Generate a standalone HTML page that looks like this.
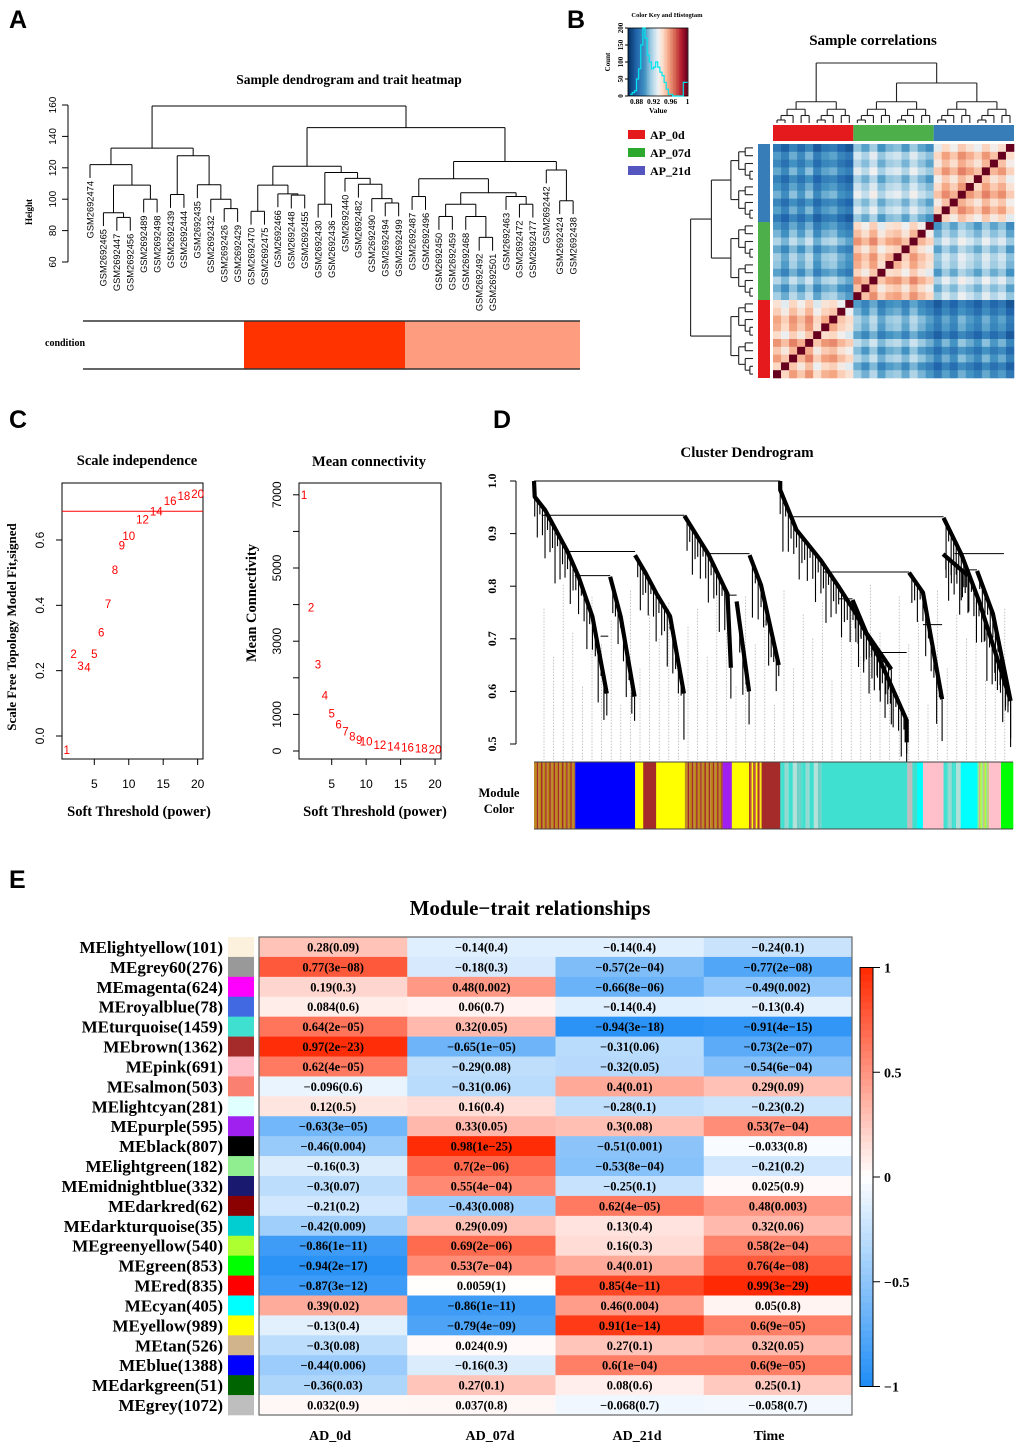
<!DOCTYPE html>
<html><head><meta charset="utf-8"><style>
html,body{margin:0;padding:0;background:#fff;}
svg{display:block;}
.serif{font-family:"Liberation Serif",serif;font-weight:bold;}
.sans{font-family:"Liberation Sans",sans-serif;}
</style></head><body>
<svg id="fig" width="1020" height="1450" viewBox="0 0 1020 1450" xmlns="http://www.w3.org/2000/svg">
<g class="sans" font-weight="bold" font-size="25">
<text x="9" y="28">A</text>
<text x="567" y="28">B</text>
<text x="9" y="428">C</text>
<text x="493" y="428">D</text>
<text x="9" y="888">E</text>
</g>
<g id="pA"></g>
<g id="pB"></g>
<g id="pC"></g>
<g id="pD"></g>
<g id="pE"></g>
</svg>
<script>
// ===== Panel A data =====
const sampleNames = ["GSM2692474","GSM2692465","GSM2692447","GSM2692456","GSM2692489","GSM2692498","GSM2692439","GSM2692444","GSM2692435","GSM2692432","GSM2692426","GSM2692429","GSM2692470","GSM2692475","GSM2692466","GSM2692448","GSM2692455","GSM2692430","GSM2692436","GSM2692440","GSM2692482","GSM2692490","GSM2692494","GSM2692499","GSM2692487","GSM2692496","GSM2692450","GSM2692459","GSM2692468","GSM2692492","GSM2692501","GSM2692463","GSM2692472","GSM2692477","GSM2692442","GSM2692424","GSM2692438"];
const sampleTree = [[[0,[[1,[2,3,88.4],91.4],[4,5,100],109],122],[[6,7,103],[8,[9,[10,11,94],100],109.2],127.7],132.5],
 [[[[12,13,92.3],[14,[15,16,102.6],103.4],109],[[17,18,96.8],[19,[20,[21,[22,23,97.6],100.4],109.5],113.3],117],121],
  [[[24,25,101.7],[[[26,27,89],[28,[29,30,75.7],89],96.8],[31,[32,33,96.8],101.7],104.1],113],[34,[35,36,99],118.6],124],145.6],159.4];
const heightTicks = [60,80,100,120,140,160];

// ===== Panel B data =====
const corrBlockMeans = [[0.945,0.906,0.894],[0.906,0.945,0.916],[0.894,0.916,0.947]];
const sampleOffsets = [0.004,-0.006,0.008,-0.002,0.010,-0.008,0.003,0.006,-0.004,-0.010,
 0.006,-0.003,0.009,-0.007,0.002,0.005,-0.005,0.008,-0.002,-0.009,
 -0.008,0.005,-0.004,0.009,0.002,-0.006,0.007,-0.003,0.004,-0.010];
const groupColors = ["#E41A1C","#4DAF4A","#377EB8"];
const groupNames = ["AP_0d","AP_07d","AP_21d"];
const legendColors = ["#E41A1C","#2CA82C","#5555C0"];
const histCounts = [5,10,15,50,80,150,200,170,120,100,80,85,100,85,70,60,40,20,5,5,0,0,0,0,0,40,40];
const keyTicks = [0.88,0.92,0.96,1];

// ===== Panel C data =====
const powers = [1,2,3,4,5,6,7,8,9,10,12,14,16,18,20];
const sftFit = [-0.043,0.251,0.215,0.209,0.251,0.317,0.404,0.508,0.583,0.612,0.663,0.687,0.72,0.735,0.741];
const meanK = [7000,3915,2369,1511,1030,730,527,391,300,254,164,117,90,63,45];
const fitCutoff = 0.688;
const fitTicks = [0.0,0.2,0.4,0.6];
const kTicks = [0,1000,2000,3000,4000,5000,6000,7000];

// ===== Panel D data (xfrac of gene order, height) =====
const dendroBranches = [
 [[0,1.0],[0.0015,0.97],[0.023,0.945],[0.07,0.866],[0.093,0.818],[0.122,0.742],[0.152,0.596]],
 [[0.314,0.934],[0.364,0.861],[0.404,0.785],[0.411,0.645]],
 [[0.211,0.859],[0.233,0.825],[0.255,0.787],[0.284,0.743],[0.313,0.596]],
 [[0.159,0.818],[0.181,0.742],[0.21,0.590]],
 [[0.45,0.859],[0.474,0.802],[0.511,0.650]],
 [[0.423,0.771],[0.449,0.600]],
 [[0.514,1.0],[0.514,0.983],[0.548,0.907],[0.599,0.849],[0.636,0.799],[0.672,0.748],[0.716,0.672],[0.778,0.545],[0.778,0.503]],
 [[0.855,0.930],[0.892,0.861],[0.929,0.772],[0.995,0.582]],
 [[0.925,0.829],[0.958,0.748],[0.995,0.582]],
 [[0.783,0.826],[0.812,0.788],[0.852,0.585]],
 [[0.665,0.774],[0.694,0.711],[0.746,0.642]],
 [[0.854,0.861],[0.906,0.820]]
];
const dendroMerges = [
 [0,1.0,0.514],[0.016,0.935,0.314],[0.07,0.866,0.211],[0.085,0.820,0.159],[0.364,0.862,0.45],
 [0.404,0.783,0.423],[0.139,0.705,0.155],[0.532,0.932,0.855],[0.604,0.827,0.783],[0.636,0.776,0.665],
 [0.719,0.674,0.778],[0.878,0.862,0.981],[0.892,0.831,0.925],[0.812,0.727,0.852],[0.981,0.862,0.981]
];
const hangLengths = [18,34,10,26,44,14,30,22,50,12,38,20,28,16,42,24];
const moduleSegments = [
 ["mix",0,0.086],["#0000FF",0.086,0.211],["#FFFF00",0.211,0.228],["#A52A2A",0.228,0.255],["#FFFF00",0.255,0.315],
 ["mix",0.315,0.394],["#A020F0",0.394,0.413],["#FFFF00",0.413,0.449],["mix2",0.449,0.475],["#A52A2A",0.475,0.514],
 ["turqmix",0.514,0.6],["#40E0D0",0.6,0.779],["#BEBEBE",0.779,0.79],["#40E0D0",0.79,0.8],["#00FFFF",0.8,0.812],["#FFC0CB",0.812,0.855],
 ["turqmix",0.855,0.891],["#00FFFF",0.891,0.926],["gmix",0.926,0.95],["#FFC0CB",0.95,0.975],["#00FF00",0.975,1]
];
const stripePalettes = {mix:["#C08830","#7B68EE","#A52A2A","#D2A040","#3040E0","#B8860B","#9370DB","#FFA040"],
 mix2:["#A52A2A","#D08040","#FFFF00","#C05030"], turqmix:["#40E0D0","#90D8D0","#40E0D0","#B0E0D8","#70D0C8"],
 gmix:["#90EE90","#D2B48C","#ADFF2F","#40E0D0"]};

// ===== Panel E data =====
const moduleNames = ["MElightyellow(101)","MEgrey60(276)","MEmagenta(624)","MEroyalblue(78)","MEturquoise(1459)","MEbrown(1362)","MEpink(691)","MEsalmon(503)","MElightcyan(281)","MEpurple(595)","MEblack(807)","MElightgreen(182)","MEmidnightblue(332)","MEdarkred(62)","MEdarkturquoise(35)","MEgreenyellow(540)","MEgreen(853)","MEred(835)","MEcyan(405)","MEyellow(989)","MEtan(526)","MEblue(1388)","MEdarkgreen(51)","MEgrey(1072)"];
const moduleColors = ["#FBF1DC","#999999","#FF00FF","#4169E1","#40E0D0","#A52A2A","#FFC0CB","#FA8072","#E0FFFF","#A020F0","#000000","#90EE90","#191970","#8B0000","#00CED1","#ADFF2F","#00FF00","#FF0000","#00FFFF","#FFFF00","#D2B48C","#0000FF","#006400","#BEBEBE"];
const traitNames = ["AD_0d","AD_07d","AD_21d","Time"];
const corAD0 = [0.28,0.77,0.19,0.084,0.64,0.97,0.62,-0.096,0.12,-0.63,-0.46,-0.16,-0.3,-0.21,-0.42,-0.86,-0.94,-0.87,0.39,-0.13,-0.3,-0.44,-0.36,0.032];
const pAD0 = ["0.09","3e−08","0.3","0.6","2e−05","2e−23","4e−05","0.6","0.5","3e−05","0.004","0.3","0.07","0.2","0.009","1e−11","2e−17","3e−12","0.02","0.4","0.08","0.006","0.03","0.9"];
const corAD07 = [-0.14,-0.18,0.48,0.06,0.32,-0.65,-0.29,-0.31,0.16,0.33,0.98,0.7,0.55,-0.43,0.29,0.69,0.53,0.0059,-0.86,-0.79,0.024,-0.16,0.27,0.037];
const pAD07 = ["0.4","0.3","0.002","0.7","0.05","1e−05","0.08","0.06","0.4","0.05","1e−25","2e−06","4e−04","0.008","0.09","2e−06","7e−04","1","1e−11","4e−09","0.9","0.3","0.1","0.8"];
const corAD21 = [-0.14,-0.57,-0.66,-0.14,-0.94,-0.31,-0.32,0.4,-0.28,0.3,-0.51,-0.53,-0.25,0.62,0.13,0.16,0.4,0.85,0.46,0.91,0.27,0.6,0.08,-0.068];
const pAD21 = ["0.4","2e−04","8e−06","0.4","3e−18","0.06","0.05","0.01","0.1","0.08","0.001","8e−04","0.1","4e−05","0.4","0.3","0.01","4e−11","0.004","1e−14","0.1","1e−04","0.6","0.7"];
const corTime = [-0.24,-0.77,-0.49,-0.13,-0.91,-0.73,-0.54,0.29,-0.23,0.53,-0.033,-0.21,0.025,0.48,0.32,0.58,0.76,0.99,0.05,0.6,0.32,0.6,0.25,-0.058];
const pTime = ["0.1","2e−08","0.002","0.4","4e−15","2e−07","6e−04","0.09","0.2","7e−04","0.8","0.2","0.9","0.003","0.06","2e−04","4e−08","3e−29","0.8","9e−05","0.05","9e−05","0.1","0.7"];
const colorbarTicks = [1,0.5,0,-0.5,-1];

// ===== helpers =====
const NS="http://www.w3.org/2000/svg";
function mk(parent,tag,attrs,txt){const e=document.createElementNS(NS,tag);for(const k in attrs)e.setAttribute(k,attrs[k]);if(txt!==undefined)e.textContent=txt;parent.appendChild(e);return e;}
function fmt(v){return (v<0?"\u2212":"")+Math.abs(v);}
function lerp(a,b,t){return Math.round(a+(b-a)*t);}
function mixc(c1,c2,t){return "rgb("+lerp(c1[0],c2[0],t)+","+lerp(c1[1],c2[1],t)+","+lerp(c1[2],c2[2],t)+")";}

// ===== Panel A =====
(function(){
 const g=document.getElementById('pA');
 const yA=h=>105+(160-h)*1.57, xLeaf=i=>90+i*13.42;
 const t=mk(g,'text',{x:349,y:84,'text-anchor':'middle','font-size':13.5,class:'serif'},'Sample dendrogram and trait heatmap');
 
 const ax=mk(g,'g',{stroke:'#000','stroke-width':1});
 
 mk(ax,'line',{x1:68,y1:yA(160),x2:68,y2:yA(60)});
 heightTicks.forEach(v=>{mk(ax,'line',{x1:62,x2:68,y1:yA(v),y2:yA(v)});
  const l=mk(g,'text',{x:0,y:0,transform:`translate(56,${yA(v)}) rotate(-90)`,'text-anchor':'middle','font-size':10,class:'sans'},v);
  });
 const yl=mk(g,'text',{x:0,y:0,transform:'translate(32,212) rotate(-90)','text-anchor':'middle','font-size':9,class:'serif'},'Height');
 
 const tg=mk(g,'g',{stroke:'#000','stroke-width':1,fill:'none'});
 
 function draw(n,ph){
  if(typeof n==='number'){const x=xLeaf(n),yb=yA(ph-8.5);mk(tg,'line',{x1:x,x2:x,y1:yA(ph),y2:yb});
   const l=mk(g,'text',{x:0,y:0,transform:`translate(${x+3.3},${yb+3}) rotate(-90)`,'text-anchor':'end','font-size':9.3,class:'sans'},sampleNames[n]);
   return x;}
  const xl=draw(n[0],n[2]),xr=draw(n[1],n[2]);const xm=(xl+xr)/2;
  mk(tg,'line',{x1:xl,x2:xr,y1:yA(n[2]),y2:yA(n[2])});
  if(ph!==null)mk(tg,'line',{x1:xm,x2:xm,y1:yA(n[2]),y2:yA(ph)});
  return xm;}
 draw(sampleTree,null);
 const cb=mk(g,'g',{});
 [["white",83,244],["#FF3300",244,405],["#FE9C80",405,580]].forEach(b=>{
  const r=mk(cb,'rect',{x:b[1],y:321,width:b[2]-b[1],height:48,fill:b[0]});
  });
 mk(cb,'line',{x1:83,x2:580,y1:321,y2:321,stroke:'#333','stroke-width':1.5});
 mk(cb,'line',{x1:83,x2:580,y1:369,y2:369,stroke:'#333','stroke-width':1.5});
 const cl=mk(g,'text',{x:45,y:346,'font-size':10,class:'serif'},'condition');
 
})();

// ===== Panel B =====
(function(){
 const g=document.getElementById('pB');
 const stops=[[0.86,[5,48,97]],[0.88,[33,102,172]],[0.90,[67,147,195]],[0.912,[146,197,222]],[0.925,[209,229,240]],[0.932,[240,240,240]],[0.942,[253,219,199]],[0.955,[244,165,130]],[0.97,[214,96,77]],[0.985,[178,24,43]],[1.0,[103,0,31]]];
 function rdbu(v){if(v<=stops[0][0])return mixc(stops[0][1],stops[0][1],0);
  for(let i=1;i<stops.length;i++){if(v<=stops[i][0]){const t=(v-stops[i-1][0])/(stops[i][0]-stops[i-1][0]);return mixc(stops[i-1][1],stops[i][1],t);}}
  return mixc(stops[10][1],stops[10][1],0);}
 const kx=v=>628+(v-0.86)*425, ky=c=>96-c*0.34;
 const key=mk(g,'g',{});
 for(let i=0;i<40;i++){const v=0.86+i*0.0035;mk(key,'rect',{x:kx(v),y:28,width:1.6,height:68,fill:rdbu(v+0.00175)});}
 mk(key,'rect',{x:628,y:28,width:60,height:68,fill:'none',stroke:'#000','stroke-width':0.8});
 let pts=[];histCounts.forEach((c,i)=>{const a=kx(0.865+i*0.005),b=kx(0.87+i*0.005);pts.push(a+','+ky(c),b+','+ky(c));});
 const hp=mk(key,'polyline',{points:pts.join(' '),fill:'none',stroke:'#00E5EE','stroke-width':1.2});
 
 [0,50,100,150,200].forEach(c=>{mk(key,'line',{x1:625,x2:628,y1:ky(c),y2:ky(c),stroke:'#000'});
  mk(key,'text',{x:0,y:0,transform:`translate(623,${ky(c)}) rotate(-90)`,'text-anchor':'middle','font-size':7,class:'serif','font-weight':'normal'},c);});
 keyTicks.forEach(v=>mk(key,'text',{x:kx(v),y:104,'text-anchor':'middle','font-size':7.5,class:'serif'},v));
 mk(key,'text',{x:0,y:0,transform:'translate(610,62) rotate(-90)','text-anchor':'middle','font-size':7,class:'serif'},'Count');
 mk(key,'text',{x:658,y:113,'text-anchor':'middle','font-size':7.5,class:'serif'},'Value');
 mk(key,'text',{x:667,y:17,'text-anchor':'middle','font-size':6.5,class:'serif'},'Color Key and Histogtam');
 groupNames.forEach((n,i)=>{const y=130+i*18;
  const r=mk(g,'rect',{x:628,y:y,width:17,height:9,fill:legendColors[i]});
  
  const t=mk(g,'text',{x:650,y:y+9,'font-size':12,class:'serif'},n);
  });
 const tt=mk(g,'text',{x:873,y:45,'text-anchor':'middle','font-size':15,class:'serif'},'Sample correlations');
 
 const N=30,hx0=773,hx1=1014,hy0=144,hy1=378,cw=(hx1-hx0)/N,ch=(hy1-hy0)/N;
 const hm=mk(g,'g',{});
 for(let r=0;r<N;r++)for(let c=0;c<N;c++){const s=N-1-r;
  const v=(s===c)?1:corrBlockMeans[Math.floor(s/10)][Math.floor(c/10)]+sampleOffsets[s]+sampleOffsets[c];
  mk(hm,'rect',{x:hx0+c*cw,y:hy0+r*ch,width:cw+0.3,height:ch+0.3,fill:rdbu(v)});}
 for(let k=0;k<3;k++){
  const a=mk(g,'rect',{x:hx0+k*10*cw,y:125,width:10*cw,height:16,fill:groupColors[k]});
  
  const b=mk(g,'rect',{x:758,y:hy0+(2-k)*10*ch,width:12,height:10*ch,fill:groupColors[k]});
  }
 const subH=[0.85,0.55,0.3,0.12];
 function buildTree(lo,hi,lvl){if(hi-lo===1)return {c:lo+0.5,h:0};
  const m=lo+Math.ceil((hi-lo)/2);const L=buildTree(lo,m,lvl+1),R=buildTree(m,hi,lvl+1);
  return {c:(L.c+R.c)/2,h:subH[Math.min(lvl,3)],L:L,R:R};}
 const groups=[buildTree(0,10,0),buildTree(10,20,0),buildTree(20,30,0)];
 const top={L:groups[0],R:{L:groups[1],R:groups[2],h:1.6},h:2.4};
 top.R.c=(groups[1].c+groups[2].c)/2;top.c=(groups[0].c+top.R.c)/2;
 const cd=mk(g,'g',{stroke:'#222','stroke-width':1.1,fill:'none'});
 const rd=mk(g,'g',{stroke:'#222','stroke-width':1.1,fill:'none'});
 const cy=h=>123-h*25, cx=c=>hx0+c*cw, rx=h=>753-h*26, ry=c=>hy1-c*ch;
 function drawT(n){if(!n.L)return;[n.L,n.R].forEach(k=>{
  mk(cd,'line',{x1:cx(k.c),x2:cx(k.c),y1:cy(k.h),y2:cy(n.h)});
  mk(rd,'line',{y1:ry(k.c),y2:ry(k.c),x1:rx(k.h),x2:rx(n.h)});drawT(k);});
  mk(cd,'line',{x1:cx(n.L.c),x2:cx(n.R.c),y1:cy(n.h),y2:cy(n.h)});
  mk(rd,'line',{y1:ry(n.L.c),y2:ry(n.R.c),x1:rx(n.h),x2:rx(n.h)});}
 drawT(top);
})();

// ===== Panel C =====
(function(){
 const g=document.getElementById('pC');
 const xs=p=>94.3+(p-5)*6.89;
 function frame(x0,x1,y0,y1,name){const r=mk(g,'rect',{x:x0,y:y0,width:x1-x0,height:y1-y0,fill:'none',stroke:'#000','stroke-width':1});
  }
 const y1=v=>736-v*326.7;
 frame(62,203,483,759,'scale-independence-plot-frame');
 mk(g,'text',{x:137,y:465,'text-anchor':'middle','font-size':14.5,class:'serif'},'Scale independence');
 fitTicks.forEach(v=>{mk(g,'line',{x1:56,x2:62,y1:y1(v),y2:y1(v),stroke:'#000'});
  mk(g,'text',{x:0,y:0,transform:`translate(44,${y1(v)}) rotate(-90)`,'text-anchor':'middle','font-size':12,class:'sans'},v.toFixed(1));});
 [5,10,15,20].forEach(p=>{mk(g,'line',{x1:xs(p),x2:xs(p),y1:759,y2:765,stroke:'#000'});
  mk(g,'text',{x:xs(p),y:788,'text-anchor':'middle','font-size':12,class:'sans'},p);});
 mk(g,'line',{x1:xs(1),x2:xs(20),y1:759,y2:759,stroke:'#000'});
 const cut=mk(g,'line',{x1:62,x2:203,y1:y1(fitCutoff),y2:y1(fitCutoff),stroke:'#FF0000','stroke-width':1});
 
 powers.forEach((p,i)=>{const t=mk(g,'text',{x:xs(p),y:y1(sftFit[i])+4,'text-anchor':'middle','font-size':11.5,fill:'#FF0000',class:'sans'},p);
  });
 mk(g,'text',{x:0,y:0,transform:'translate(16,627) rotate(-90)','text-anchor':'middle','font-size':13,class:'serif'},'Scale Free Topology Model Fit,signed');
 mk(g,'text',{x:139,y:816,'text-anchor':'middle','font-size':14.5,class:'serif'},'Soft Threshold (power)');
 const xr=p=>331.7+(p-5)*6.89, y2=v=>751-v*0.0366;
 frame(299,441,483,759,'mean-connectivity-plot-frame');
 mk(g,'text',{x:369,y:466,'text-anchor':'middle','font-size':14.5,class:'serif'},'Mean connectivity');
 kTicks.forEach(v=>{mk(g,'line',{x1:293,x2:299,y1:y2(v),y2:y2(v),stroke:'#000'});
  if(v%2000===1000||v===0) mk(g,'text',{x:0,y:0,transform:`translate(281,${y2(v)}) rotate(-90)`,'text-anchor':'middle','font-size':12,class:'sans'},v);});
 [5,10,15,20].forEach(p=>{mk(g,'line',{x1:xr(p),x2:xr(p),y1:759,y2:765,stroke:'#000'});
  mk(g,'text',{x:xr(p),y:788,'text-anchor':'middle','font-size':12,class:'sans'},p);});
 powers.forEach((p,i)=>{const t=mk(g,'text',{x:xr(p),y:y2(meanK[i])+4,'text-anchor':'middle','font-size':11.5,fill:'#FF0000',class:'sans'},p);
  });
 mk(g,'text',{x:0,y:0,transform:'translate(256,603) rotate(-90)','text-anchor':'middle','font-size':14.5,class:'serif'},'Mean Connectivity');
 mk(g,'text',{x:375,y:816,'text-anchor':'middle','font-size':14.5,class:'serif'},'Soft Threshold (power)');
})();

// ===== Panel D =====
(function(){
 const g=document.getElementById('pD');
 const X0=534,X1=1013,xd=f=>X0+f*(X1-X0),yd=h=>481+(1-h)*526;
 mk(g,'text',{x:747,y:457,'text-anchor':'middle','font-size':15,class:'serif'},'Cluster Dendrogram');
 mk(g,'line',{x1:516,x2:516,y1:yd(1),y2:yd(0.5),stroke:'#000'});
 [0.5,0.6,0.7,0.8,0.9,1.0].forEach(v=>{mk(g,'line',{x1:510,x2:516,y1:yd(v),y2:yd(v),stroke:'#000'});
  mk(g,'text',{x:0,y:0,transform:`translate(496,${yd(v)}) rotate(-90)`,'text-anchor':'middle','font-size':12,class:'serif'},v.toFixed(1));});
 const gl=mk(g,'g',{stroke:'#AAAAAA','stroke-width':0.7,'stroke-dasharray':'1.5,1.5'});
 
 for(let x=544,k=0;x<1012;x+=9.6,k++) mk(gl,'line',{x1:x,x2:x,y1:yd(0.86)+hangLengths[k%16]*3,y2:760});
 const tr=mk(g,'g',{stroke:'#000',fill:'none'});
 dendroMerges.forEach(m=>mk(tr,'line',{x1:xd(m[0]),x2:xd(m[2]),y1:yd(m[1]),y2:yd(m[1]),'stroke-width':1}));
 let k=0;
 dendroBranches.forEach(b=>{
  mk(tr,'polyline',{points:b.map(p=>xd(p[0])+','+yd(p[1])).join(' '),'stroke-width':4.2,'stroke-linejoin':'round'});
  for(let i=1;i<b.length;i++){const [a0,h0]=b[i-1],[a1,h1]=b[i];const len=(xd(a1)-xd(a0));const steps=Math.max(1,Math.floor(len/2.5));
   for(let s=1;s<=steps;s++){const t=s/steps,x=xd(a0+(a1-a0)*t),y=yd(h0+(h1-h0)*t);
    mk(tr,'line',{x1:x,x2:x,y1:y,y2:y+hangLengths[(k++)%16]*1.1,'stroke-width':1.1});}}
 });
 const mb=mk(g,'g',{});
 moduleSegments.forEach(s=>{const a=xd(s[1]),b=xd(s[2]);
  if(stripePalettes[s[0]]){const pal=stripePalettes[s[0]];let j=0;for(let x=a;x<b;x+=1.4,j++)mk(mb,'rect',{x:x,y:762,width:Math.min(1.5,b-x),height:67,fill:pal[(j*5+Math.floor(j/3))%pal.length]});}
  else mk(mb,'rect',{x:a,y:762,width:b-a+0.3,height:67,fill:s[0]});});
 mk(mb,'line',{x1:X0,x2:X1,y1:762,y2:762,stroke:'#444'});
 mk(mb,'line',{x1:X0,x2:X1,y1:829,y2:829,stroke:'#444'});
 mk(g,'text',{x:499,y:797,'text-anchor':'middle','font-size':12.5,class:'serif'},'Module');
 mk(g,'text',{x:499,y:813,'text-anchor':'middle','font-size':12.5,class:'serif'},'Color');
})();

// ===== Panel E =====
(function(){
 const g=document.getElementById('pE');
 const blue=[30,140,245],red=[255,40,0],white=[255,255,255];
 const col=v=>v<0?mixc(white,blue,-v):mixc(white,red,v);
 const t=mk(g,'text',{x:530,y:915,'text-anchor':'middle','font-size':21,class:'serif'},'Module\u2212trait relationships');
 
 const bx0=259,bx1=852,by0=937,by1=1415,rh=(by1-by0)/moduleNames.length,cw=(bx1-bx0)/4;
 const cors=[corAD0,corAD07,corAD21,corTime],ps=[pAD0,pAD07,pAD21,pTime];
 moduleNames.forEach((n,i)=>{const y=by0+i*rh;
  const l=mk(g,'text',{x:223,y:y+rh/2+6,'text-anchor':'end','font-size':17,class:'serif'},n);
  
  const s=mk(g,'rect',{x:228,y:y,width:26,height:rh+0.3,fill:moduleColors[i]});
  
  for(let c=0;c<4;c++){const v=cors[c][i];
   const r=mk(g,'rect',{x:bx0+c*cw,y:y,width:cw+0.3,height:rh+0.3,fill:col(v)});
   
   const tx=mk(g,'text',{x:bx0+c*cw+cw/2,y:y+rh/2+4.5,'text-anchor':'middle','font-size':12.5,class:'serif'},fmt(v)+'('+ps[c][i]+')');
   }
 });
 mk(g,'rect',{x:bx0,y:by0,width:bx1-bx0,height:by1-by0,fill:'none',stroke:'#666','stroke-width':1.2});
 const lx=[330,490,637,769];
 traitNames.forEach((n,i)=>{const l=mk(g,'text',{x:lx[i],y:1440,'text-anchor':'middle','font-size':14,class:'serif'},n);
  });
 const cy=v=>1177-v*209.5;
 const cb=mk(g,'g',{});
 for(let i=0;i<60;i++){const v=1-i*2/60;mk(cb,'rect',{x:860,y:cy(v),width:13,height:419/60+0.4,fill:col(v-1/60)});}
 mk(cb,'rect',{x:860,y:cy(1),width:13,height:cy(-1)-cy(1),fill:'none',stroke:'#000'});
 colorbarTicks.forEach(v=>{mk(cb,'line',{x1:873,x2:880,y1:cy(v),y2:cy(v),stroke:'#000'});
  mk(cb,'text',{x:884,y:cy(v)+5,'font-size':14,class:'serif'},fmt(v));});
})();
</script>
</body></html>
